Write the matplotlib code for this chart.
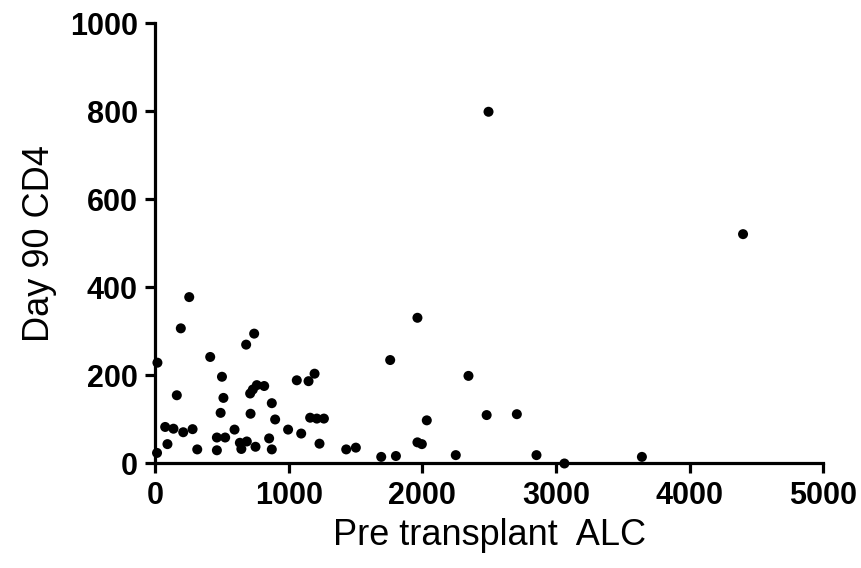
import matplotlib
matplotlib.use("Agg")
import matplotlib.pyplot as plt

# Pre transplant ALC (x) vs Day 90 CD4 (y)
alc = [255, 192, 741, 681, 17, 412, 500, 1060, 1148, 1193,
       162, 511, 711, 731, 761, 816, 873, 490, 714, 898,
       1160, 1210, 1263, 75, 137, 210, 280, 594, 995, 1093,
       462, 524, 1230, 92, 853, 634, 686, 645, 751, 315,
       462, 873, 14, 1963, 1759, 2345, 2033, 2481, 2707, 1430,
       1502, 1963, 1996, 1692, 1802, 2250, 2854, 3063, 3643, 2495,
       4400]
cd4 = [378, 307, 295, 270, 229, 242, 197, 189, 187, 204,
       155, 149, 159, 168, 178, 176, 137, 115, 113, 100,
       104, 102, 102, 83, 79, 71, 78, 77, 77, 68,
       59, 59, 45, 44, 57, 47, 50, 33, 38, 32,
       30, 32, 24, 331, 235, 199, 98, 110, 112, 32,
       36, 48, 44, 15, 17, 19, 19, 0, 15, 799,
       521]

x_ticks = [0, 1000, 2000, 3000, 4000, 5000]
y_ticks = [0, 200, 400, 600, 800, 1000]

plt.rcParams["font.family"] = ["Liberation Sans", "DejaVu Sans"]

fig = plt.figure(figsize=(8.62, 5.68), dpi=100)
ax = fig.add_axes([0.18, 0.184, 0.775, 0.775])

ax.scatter(alc, cd4, s=52, color="black", edgecolors="none", clip_on=False, zorder=3)

ax.set_xlim(0, 5000)
ax.set_ylim(0, 1000)
ax.set_xticks(x_ticks)
ax.set_yticks(y_ticks)
ax.set_xticklabels([str(t) for t in x_ticks], fontsize=22, fontweight="bold")
ax.set_yticklabels([str(t) for t in y_ticks], fontsize=22, fontweight="bold")

for side in ("top", "right"):
    ax.spines[side].set_visible(False)
for side in ("left", "bottom"):
    ax.spines[side].set_linewidth(2.3)
ax.tick_params(axis="both", length=7.5, width=2.3, pad=5, colors="black")

ax.set_xlabel("Pre transplant  ALC", fontsize=26, labelpad=5)
ax.set_ylabel("Day 90 CD4", fontsize=26, labelpad=9)

fig.savefig("out.png", dpi=100)
